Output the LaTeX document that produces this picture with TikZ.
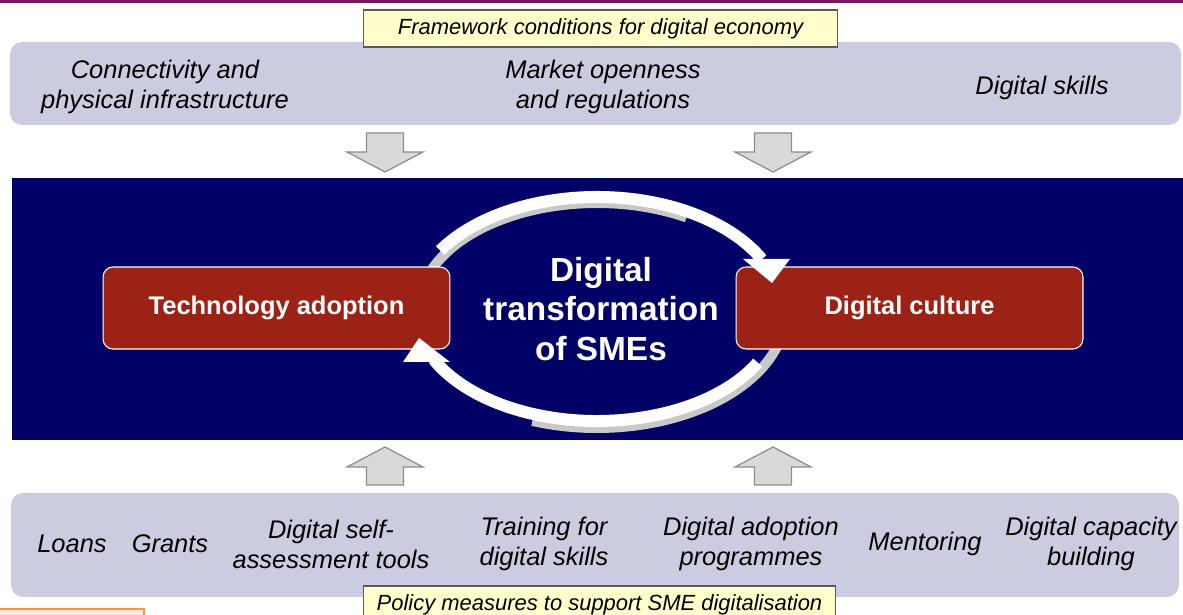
\documentclass[tikz,border=0pt]{standalone}
\usepackage{fontspec}
\setmainfont{Liberation Sans}

\definecolor{barpurple}{RGB}{122,22,94}
\definecolor{lavender}{RGB}{204,204,224}
\definecolor{navyband}{RGB}{0,0,102}
\definecolor{pillarred}{RGB}{157,34,22}
\definecolor{tagyellow}{RGB}{255,255,204}
\definecolor{taggray}{RGB}{90,90,90}
\definecolor{arrowfill}{RGB}{217,217,217}
\definecolor{arrowline}{RGB}{140,140,140}
\definecolor{ribbongray}{RGB}{200,200,200}
\definecolor{orangeline}{RGB}{247,150,70}
\definecolor{orangefill}{RGB}{253,233,217}

\tikzset{
  band/.style={fill=lavender, rounded corners=0.24cm},
  factor/.style={font=\fontsize{14.5}{17}\selectfont\itshape, align=center, inner sep=0pt},
  tag/.style={draw=taggray, fill=tagyellow, line width=0.6pt, minimum width=9.5cm,
    minimum height=0.74cm, inner sep=0pt, font=\fontsize{12.5}{15}\selectfont\itshape},
  pillar/.style={draw=white, fill=pillarred, rounded corners=0.2cm, line width=0.6pt,
    minimum width=6.94cm, minimum height=1.64cm, text=white,
    font=\fontsize{14.5}{17}\selectfont\bfseries},
  blockarr/.style={fill=arrowfill, draw=arrowline, line width=0.7pt},
  ribbon/.style={line width=0.24cm, white},
  shade/.style={line width=0.2cm, ribbongray},
}

\begin{document}
\begin{tikzpicture}[x=0.02cm, y=0.02cm]
  \useasboundingbox (0,0) rectangle (1183,615);
  % top rule
  \fill[barpurple] (0,612) rectangle (1183,615);

  % framework conditions
  \fill[band] (10,490) rectangle (1181,573);
  \node[tag] (frame) at (600.5,586.5) {Framework conditions for digital economy};
  \node[factor] (connect) at (165,528) {Connectivity and\\physical infrastructure};
  \node[factor] (market) at (603,528) {Market openness\\and regulations};
  \node[factor] (skills) at (1042,527) {Digital skills};

  \foreach \x in {385,773}
    \draw[blockarr] (\x-18.5,482) -- (\x+18.5,482) -- (\x+18.5,463) -- (\x+38,463)
      -- (\x,443) -- (\x-38,463) -- (\x-18.5,463) -- cycle;

  % central band
  \fill[navyband] (12,175) rectangle (1183,437);
  \coordinate (hub) at (597,304);
  \draw[shade] (hub) ++(160:179 and 108)
    arc[start angle=160, end angle=60, x radius=179, y radius=108];
  \draw[ribbon] (hub) ++(148:185 and 114)
    arc[start angle=148, end angle=27, x radius=185, y radius=114];
  \draw[shade] (hub) ++(-15:189 and 117)
    arc[start angle=-15, end angle=-110, x radius=189, y radius=117];
  \draw[ribbon] (hub) ++(-28:182 and 110)
    arc[start angle=-28, end angle=-154, x radius=182, y radius=110];

  \node[pillar] (tech) at (276.5,307) {Technology adoption};
  \node[pillar] (culture) at (909.5,307) {Digital culture};

  \fill[white] (743,356) -- (790,356) -- (772,332) -- cycle;
  \fill[white] (403,253) -- (450,253) -- (419,277) -- cycle;

  \node[text=white, align=center, font=\fontsize{19}{22.7}\selectfont\bfseries]
    (core) at (601,306) {Digital\\transformation\\of SMEs};

  % policy measures
  \foreach \x in {385,773}
    \draw[blockarr] (\x-18.5,130) -- (\x+18.5,130) -- (\x+18.5,148) -- (\x+38,148)
      -- (\x,168) -- (\x-38,148) -- (\x-18.5,148) -- cycle;

  \fill[band] (11,18) rectangle (1179,122);
  \node[factor] (loans) at (72,71) {Loans};
  \node[factor] (grants) at (170,71) {Grants};
  \node[factor] (selfcheck) at (331,71) {Digital self-\\assessment tools};
  \node[factor] (training) at (544,71) {Training for\\digital skills};
  \node[factor] (adoptprog) at (751,71) {Digital adoption\\programmes};
  \node[factor] (mentor) at (925,71) {Mentoring};
  \node[factor] (capacity) at (1091,71) {Digital capacity\\building};
  \node[tag, minimum width=9.46cm] (policy) at (599.5,10.5) {Policy measures to support SME digitalisation};

  \draw[draw=orangeline, fill=orangefill, line width=0.8pt] (-1,6) rectangle (144,-20);
\end{tikzpicture}
\end{document}
